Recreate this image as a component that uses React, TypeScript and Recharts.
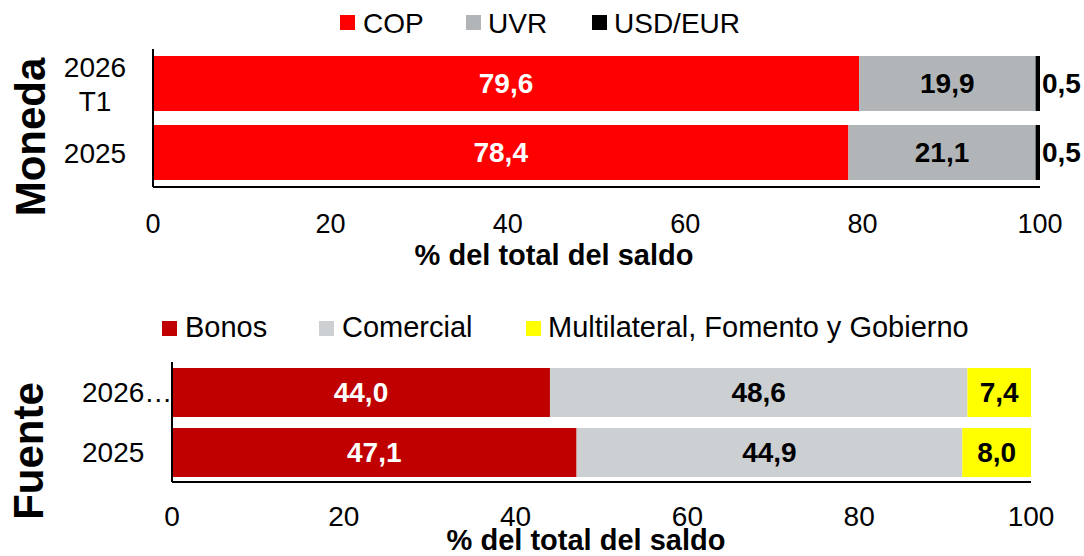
import React from 'react';
import { BarChart, Bar, XAxis, YAxis, LabelList } from 'recharts';

// ---- Data ----
const monedaCategories = ['2026 T1', '2025'];
const copValues = [79.6, 78.4];
const uvrValues = [19.9, 21.1];
const usdEurValues = [0.5, 0.5];

const fuenteCategories = ['2026…', '2025'];
const bonosValues = [44.0, 47.1];
const comercialValues = [48.6, 44.9];
const multilateralValues = [7.4, 8.0];

const xTicks = [0, 20, 40, 60, 80, 100];

const monedaLegend = ['COP', 'UVR', 'USD/EUR'];
const fuenteLegend = ['Bonos', 'Comercial', 'Multilateral, Fomento y Gobierno'];
const axisTitle = '% del total del saldo';

// ---- Styles ----
const FONT = '"Liberation Sans", Arial, sans-serif';
const C_COP = '#FF0000';
const C_UVR = '#B2B5B8';
const C_USD = '#000000';
const C_BONOS = '#C00000';
const C_COM = '#CDD0D3';
const C_MULTI = '#FFFF00';

const monedaData = monedaCategories.map((c, i) => ({
  cat: c,
  cop: copValues[i],
  uvr: uvrValues[i],
  usd: usdEurValues[i],
}));

const fuenteData = fuenteCategories.map((c, i) => ({
  cat: c,
  bonos: bonosValues[i],
  comercial: comercialValues[i],
  multi: multilateralValues[i],
}));

const fmt = (v: any) => Number(v).toFixed(1).replace('.', ',');

const TopTick = (props: any) => {
  const { y, payload } = props;
  const lines = String(payload.value).split(' ');
  if (lines.length === 1) {
    return (
      <text x={95} y={y} dy="0.36em" textAnchor="middle" fontSize={28} fill="#000" fontFamily={FONT}>
        {lines[0]}
      </text>
    );
  }
  return (
    <text x={95} y={y} textAnchor="middle" fontSize={28} fill="#000" fontFamily={FONT}>
      <tspan x={95} dy={-7}>{lines[0]}</tspan>
      <tspan x={95} dy={34}>{lines[1]}</tspan>
    </text>
  );
};

const BottomTick = (props: any) => {
  const { y, payload } = props;
  return (
    <text x={82} y={y} dy="0.36em" textAnchor="start" fontSize={28} fill="#000" fontFamily={FONT}>
      {payload.value}
    </text>
  );
};

export default function App() {
  return (
    <div style={{ position: 'absolute', left: 0, top: 0, width: 1084, height: 556, background: '#fff', fontFamily: FONT }}>
      <div style={{ position: 'absolute', left: 0, top: 0 }}>
        <BarChart
          width={1084}
          height={300}
          data={monedaData}
          layout="vertical"
          margin={{ top: 49, right: 44, bottom: 73, left: 0 }}
        >
          <XAxis
            type="number"
            domain={[0, 100]}
            ticks={xTicks}
            interval={0}
            height={40}
            tickLine={false}
            tickSize={0}
            tickMargin={27}
            axisLine={{ stroke: '#000', strokeWidth: 2 }}
            tick={{ fontSize: 27, fill: '#000', fontFamily: FONT }}
          />
          <YAxis
            type="category"
            dataKey="cat"
            width={153}
            tickLine={false}
            axisLine={{ stroke: '#000', strokeWidth: 2 }}
            tick={(p: any) => <TopTick {...p} />}
          />
          <Bar dataKey="cop" stackId="a" fill={C_COP} barSize={55} isAnimationActive={false}>
            <LabelList dataKey="cop" position="center" formatter={fmt} fill="#fff" fontSize={28} fontWeight="bold" fontFamily={FONT} />
          </Bar>
          <Bar dataKey="uvr" stackId="a" fill={C_UVR} barSize={55} isAnimationActive={false}>
            <LabelList dataKey="uvr" position="center" formatter={fmt} fill="#000" fontSize={28} fontWeight="bold" fontFamily={FONT} />
          </Bar>
          <Bar dataKey="usd" stackId="a" fill={C_USD} barSize={55} isAnimationActive={false}>
            <LabelList dataKey="usd" position="right" offset={2} formatter={fmt} fill="#000" fontSize={28} fontWeight="bold" fontFamily={FONT} />
          </Bar>
        </BarChart>
      </div>

      <div style={{ position: 'absolute', left: 0, top: 300 }}>
        <BarChart
          width={1084}
          height={256}
          data={fuenteData}
          layout="vertical"
          margin={{ top: 62, right: 53, bottom: 34, left: 0 }}
        >
          <XAxis
            type="number"
            domain={[0, 100]}
            ticks={xTicks}
            interval={0}
            height={40}
            tickLine={false}
            tickSize={0}
            tickMargin={24}
            axisLine={{ stroke: '#000', strokeWidth: 2 }}
            tick={{ fontSize: 28, fill: '#000', fontFamily: FONT }}
          />
          <YAxis
            type="category"
            dataKey="cat"
            width={172}
            tickLine={false}
            axisLine={{ stroke: '#000', strokeWidth: 2 }}
            tick={(p: any) => <BottomTick {...p} />}
          />
          <Bar dataKey="bonos" stackId="b" fill={C_BONOS} barSize={49} isAnimationActive={false}>
            <LabelList dataKey="bonos" position="center" formatter={fmt} fill="#fff" fontSize={28} fontWeight="bold" fontFamily={FONT} />
          </Bar>
          <Bar dataKey="comercial" stackId="b" fill={C_COM} barSize={49} isAnimationActive={false}>
            <LabelList dataKey="comercial" position="center" formatter={fmt} fill="#000" fontSize={28} fontWeight="bold" fontFamily={FONT} />
          </Bar>
          <Bar dataKey="multi" stackId="b" fill={C_MULTI} barSize={49} isAnimationActive={false}>
            <LabelList dataKey="multi" position="center" formatter={fmt} fill="#000" fontSize={28} fontWeight="bold" fontFamily={FONT} />
          </Bar>
        </BarChart>
      </div>

      <svg width={1084} height={556} style={{ position: 'absolute', left: 0, top: 0, pointerEvents: 'none' }}>
        {/* Top legend */}
        <rect x={340} y={15} width={15} height={15} fill={C_COP} />
        <text x={363} y={33} fontSize={28} fill="#000" fontFamily={FONT}>{monedaLegend[0]}</text>
        <rect x={466} y={15} width={15} height={15} fill={C_UVR} />
        <text x={488} y={33} fontSize={28} fill="#000" fontFamily={FONT}>{monedaLegend[1]}</text>
        <rect x={592} y={15} width={15} height={15} fill={C_USD} />
        <text x={614} y={33} fontSize={28} fill="#000" fontFamily={FONT}>{monedaLegend[2]}</text>

        {/* Bottom legend */}
        <rect x={162} y={321} width={15} height={15} fill={C_BONOS} />
        <text x={185} y={337} fontSize={29} fill="#000" fontFamily={FONT}>{fuenteLegend[0]}</text>
        <rect x={319} y={321} width={15} height={15} fill={C_COM} />
        <text x={342} y={337} fontSize={29} fill="#000" fontFamily={FONT}>{fuenteLegend[1]}</text>
        <rect x={526} y={321} width={15} height={15} fill={C_MULTI} />
        <text x={548} y={337} fontSize={29} fill="#000" fontFamily={FONT}>{fuenteLegend[2]}</text>

        {/* Axis titles */}
        <text x={554} y={265} textAnchor="middle" fontSize={29} fontWeight="bold" fill="#000" fontFamily={FONT}>{axisTitle}</text>
        <text x={586} y={550} textAnchor="middle" fontSize={29} fontWeight="bold" fill="#000" fontFamily={FONT}>{axisTitle}</text>

        {/* Panel titles */}
        <text x={45} y={137} transform="rotate(-90, 45, 137)" textAnchor="middle" fontSize={42} fontWeight="bold" fill="#000" fontFamily={FONT}>Moneda</text>
        <text x={43} y={451} transform="rotate(-90, 43, 451)" textAnchor="middle" fontSize={42} fontWeight="bold" fill="#000" fontFamily={FONT}>Fuente</text>
      </svg>
    </div>
  );
}
